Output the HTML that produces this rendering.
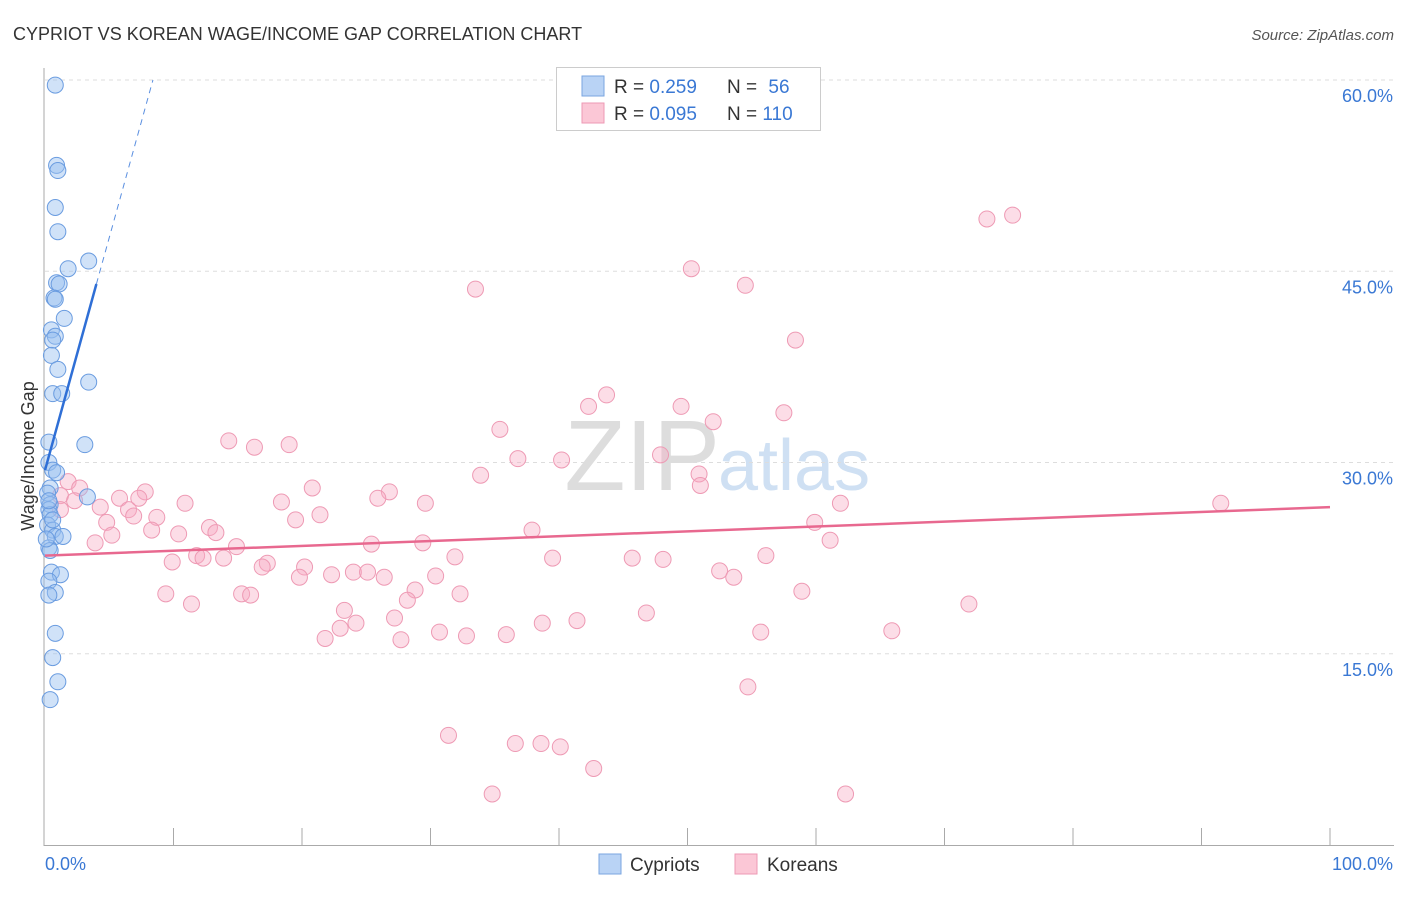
<!DOCTYPE html>
<html><head><meta charset="utf-8"><style>
body{margin:0;background:#fff;font-family:"Liberation Sans",sans-serif;}
svg text{font-family:"Liberation Sans",sans-serif;}
</style></head><body>
<svg width="1406" height="892">
<text x="13" y="40" font-size="18" fill="#333">CYPRIOT VS KOREAN WAGE/INCOME GAP CORRELATION CHART</text>
<text x="1394" y="40" font-size="15" fill="#555" font-style="italic" text-anchor="end">Source: ZipAtlas.com</text>
<text x="720" y="490" font-size="100" fill="#ddd" text-anchor="end" font-family="Liberation Serif">ZIP</text>
<text x="718" y="490" font-size="72" fill="#cfe0f3">atlas</text>
<g id="grid"></g>
<line x1="44" y1="68" x2="44" y2="846" stroke="#aaa"/>
<line x1="44" y1="845.5" x2="1394" y2="845.5" stroke="#aaa"/>
<text transform="translate(34,456) rotate(-90)" font-size="18" fill="#333" text-anchor="middle">Wage/Income Gap</text>
<text x="45" y="870" font-size="18" fill="#3a78d4">0.0%</text>
<text x="1393" y="870" font-size="18" fill="#3a78d4" text-anchor="end">100.0%</text>
<g id="pts"></g>
<g id="lines"></g>
<g>
<rect x="556.5" y="67.5" width="264" height="63" fill="#fff" stroke="#ccc"/>
<rect x="582" y="76" width="22" height="20" fill="#b9d3f5" stroke="#7aa6e0"/>
<rect x="582" y="103" width="22" height="20" fill="#fbc7d6" stroke="#ee9ab4"/>
<text x="614" y="93" font-size="19" fill="#333">R = <tspan fill="#3a78d4">0.259</tspan></text>
<text x="727" y="93" font-size="19" fill="#333">N = <tspan fill="#3a78d4" dx="6">56</tspan></text>
<text x="614" y="120" font-size="19" fill="#333">R = <tspan fill="#3a78d4">0.095</tspan></text>
<text x="727" y="120" font-size="19" fill="#333">N = <tspan fill="#3a78d4">110</tspan></text>
</g>
<g>
<rect x="599" y="854" width="22" height="20" fill="#b9d3f5" stroke="#7aa6e0"/>
<text x="630" y="871" font-size="19" fill="#333">Cypriots</text>
<rect x="735" y="854" width="22" height="20" fill="#fbc7d6" stroke="#ee9ab4"/>
<text x="767" y="871" font-size="19" fill="#333">Koreans</text>
</g>
</svg>
<script>
const yTicks=[15,30,45,60];
const yTickLabels=["15.0%","30.0%","45.0%","60.0%"];
const cypX=[0.8,0.9,1,0.8,1,3.4,1.8,0.9,1.1,0.7,0.8,1.5,0.5,0.8,0.6,0.5,1,3.4,0.6,1.3,0.3,3.1,0.3,0.6,0.9,0.4,0.2,3.3,0.4,0.3,0.4,0.2,0.6,0.8,1.4,0.3,0.4,0.5,1.2,0.3,0.8,0.3,0.8,0.6,1.0,0.4,0.3,0.6,0.1];
const cypY=[59.6,53.3,52.9,50,48.1,45.8,45.2,44.1,44,42.9,42.8,41.3,40.4,39.9,39.6,38.4,37.3,36.3,35.4,35.4,31.6,31.4,30,29.4,29.2,28,27.6,27.3,26.7,26.3,25.9,25.1,24.7,24.2,24.2,23.3,23.1,21.4,21.2,20.7,19.8,19.6,16.6,14.7,12.8,11.4,27,25.5,24];
const korX=[75.3,73.3,50.3,54.5,33.5,58.4,43.7,42.3,49.5,57.5,52,35.4,14.3,16.3,19,36.8,40.2,47.9,33.9,50.9,1.8,2.7,7.8,20.8,26.8,51,5.8,25.9,29.6,10.9,1.2,2.3,4.3,1.2,7.3,6.5,6.9,18.4,8.7,21.4,19.5,4.8,12.8,8.3,59.9,61.9,91.5,10.4,13.3,37.9,5.2,3.9,14.9,25.4,29.4,61.1,11.8,12.3,13.9,31.9,39.5,45.7,48.1,56.1,9.9,17.3,20.2,52.5,53.6,16.9,19.8,22.3,24,25.1,26.4,30.4,9.4,11.4,15.3,16,28.8,32.3,28.2,58.9,71.9,23.3,46.8,27.2,38.7,41.4,24.2,22.97,65.9,30.7,55.7,21.8,27.7,32.8,35.9,54.7,31.4,36.6,38.6,40.1,42.7,34.8,62.3];
const korY=[49.4,49.1,45.2,43.9,43.6,39.6,35.3,34.4,34.4,33.9,33.2,32.6,31.7,31.2,31.4,30.3,30.2,30.6,29,29.1,28.5,28,27.7,28,27.7,28.2,27.2,27.2,26.8,26.8,27.4,27,26.5,26.3,27.2,26.3,25.8,26.9,25.7,25.9,25.5,25.3,24.9,24.7,25.3,26.8,26.8,24.4,24.5,24.7,24.3,23.7,23.4,23.6,23.7,23.9,22.7,22.5,22.5,22.6,22.5,22.5,22.4,22.7,22.2,22.1,21.8,21.5,21,21.8,21,21.2,21.4,21.4,21,21.1,19.7,18.9,19.7,19.6,20,19.7,19.2,19.9,18.9,18.4,18.2,17.8,17.4,17.6,17.4,17,16.8,16.7,16.7,16.2,16.1,16.4,16.5,12.4,8.6,7.96,7.96,7.7,6,4,4];
const X=v=>45+v*12.85, Y=v=>845-v*12.75;
const NS="http://www.w3.org/2000/svg";
function mk(t,a,p){const e=document.createElementNS(NS,t);for(const k in a)e.setAttribute(k,a[k]);p.appendChild(e);return e;}
const g=document.getElementById('grid');
yTicks.forEach((t,i)=>{
 const l=mk('line',{x1:45,x2:1394,y1:Y(t),y2:Y(t),stroke:'#ddd','stroke-dasharray':'4,4'},g);
 
 
 const tx=mk('text',{x:1393,y:Y(t)+22,'font-size':18,fill:'#3a78d4','text-anchor':'end'},g);
 tx.textContent=yTickLabels[i];
 
 
});
for(let i=1;i<=10;i++){const l=mk('line',{x1:X(i*10),x2:X(i*10),y1:828,y2:846,stroke:'#aaa'},g);
 
 }
const p=document.getElementById('pts');
korX.forEach((x,i)=>{const c=mk('circle',{cx:X(x),cy:Y(korY[i]),r:8,fill:'rgba(248,170,195,0.4)',stroke:'#ee9ab4','stroke-width':1},p);
 
 });
cypX.forEach((x,i)=>{const c=mk('circle',{cx:X(x),cy:Y(cypY[i]),r:8,fill:'rgba(150,190,240,0.45)',stroke:'#6a9ce0','stroke-width':1},p);
 
 });
const L=document.getElementById('lines');
let a=mk('line',{x1:X(0),y1:Y(22.7),x2:X(100),y2:Y(26.5),stroke:'#e8688f','stroke-width':2.5},L);


a=mk('line',{x1:X(0),y1:Y(29.4),x2:X(4),y2:Y(44),stroke:'#2f6fd6','stroke-width':2.5},L);


a=mk('line',{x1:X(4),y1:Y(44),x2:X(8.4),y2:Y(60),stroke:'#5a8fe0','stroke-width':1,'stroke-dasharray':'6,5'},L);


</script>
</body></html>
